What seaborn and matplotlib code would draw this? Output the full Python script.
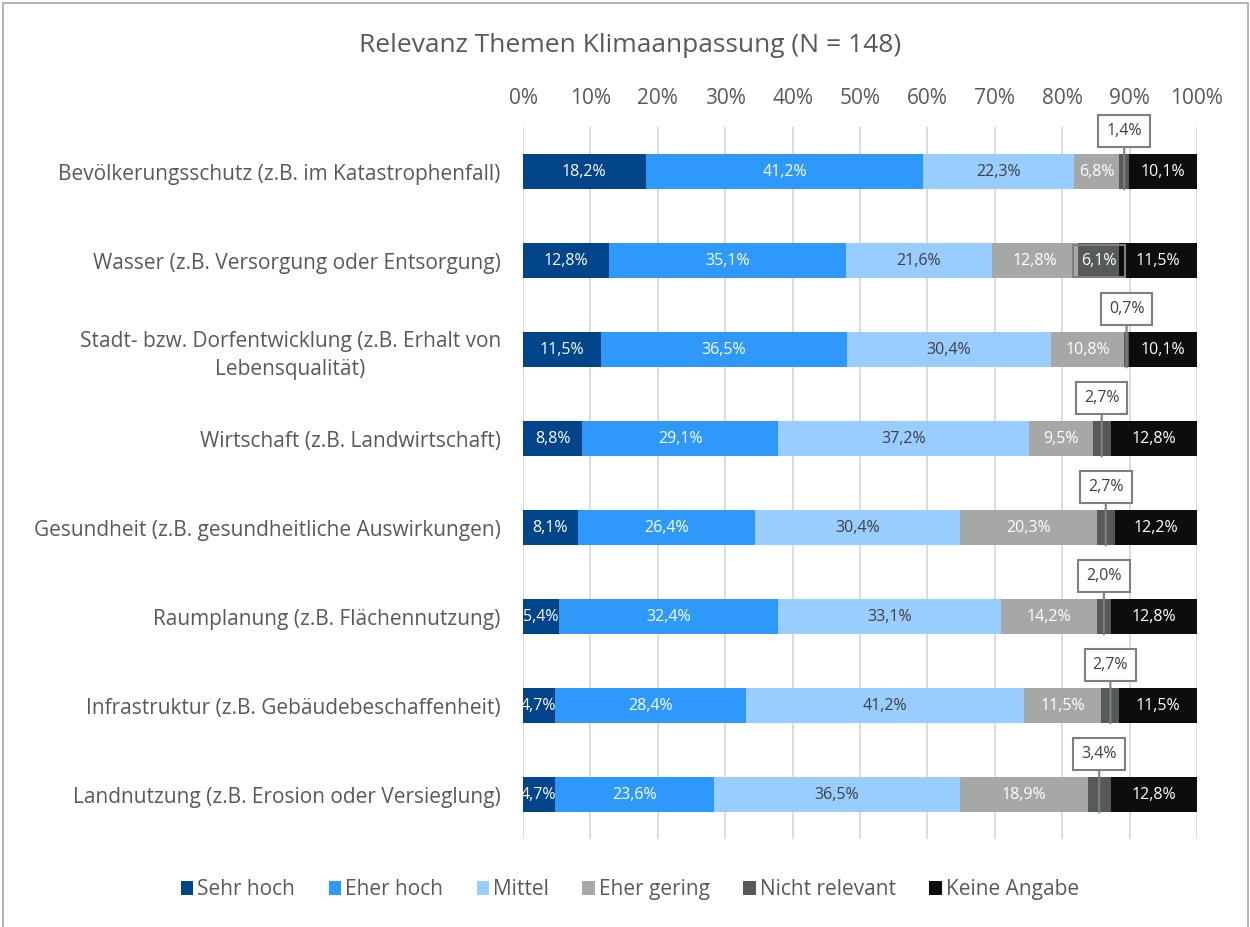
import numpy as np
import pandas as pd
import seaborn as sns
import matplotlib.pyplot as plt
from matplotlib.patches import Patch, Rectangle

sns.set_style("white")
plt.rcParams['font.family'] = ['Open Sans', 'DejaVu Sans']

themen = [
    "Bevölkerungsschutz (z.B. im Katastrophenfall)",
    "Wasser (z.B. Versorgung oder Entsorgung)",
    "Stadt- bzw. Dorfentwicklung (z.B. Erhalt von\nLebensqualität)",
    "Wirtschaft (z.B. Landwirtschaft)",
    "Gesundheit (z.B. gesundheitliche Auswirkungen)",
    "Raumplanung (z.B. Flächennutzung)",
    "Infrastruktur (z.B. Gebäudebeschaffenheit)",
    "Landnutzung (z.B. Erosion oder Versieglung)",
]
stufen = ["Sehr hoch", "Eher hoch", "Mittel", "Eher gering", "Nicht relevant", "Keine Angabe"]
sehr_hoch = [18.2, 12.8, 11.5, 8.8, 8.1, 5.4, 4.7, 4.7]
eher_hoch = [41.2, 35.1, 36.5, 29.1, 26.4, 32.4, 28.4, 23.6]
mittel = [22.3, 21.6, 30.4, 37.2, 30.4, 33.1, 41.2, 36.5]
eher_gering = [6.8, 12.8, 10.8, 9.5, 20.3, 14.2, 11.5, 18.9]
nicht_relevant = [1.4, 6.1, 0.7, 2.7, 2.7, 2.0, 2.7, 3.4]
keine_angabe = [10.1, 11.5, 10.1, 12.8, 12.2, 12.8, 11.5, 12.8]

farben = ["#004489", "#2E99FB", "#99CCFF", "#A6A8A8", "#575A5A", "#0D0D0D"]
textfarben = ["white", "white", "#404040", "white", "white", "white"]
grau = "#595959"

werte = np.array([sehr_hoch, eher_hoch, mittel, eher_gering, nicht_relevant, keine_angabe]).T
# 100% gestapelt: auf Zeilensumme normieren
anteile = werte / werte.sum(axis=1, keepdims=True) * 100
kum = np.cumsum(anteile, axis=1)

df = pd.DataFrame(kum, columns=stufen)
df["Thema"] = themen

fig = plt.figure(figsize=(12.5, 9.27), dpi=100)
ax = fig.add_axes([0.4184, 0.0949, 0.5392, 0.768])

# von hinten nach vorne zeichnen, damit die Stapel entstehen
for j in reversed(range(len(stufen))):
    sns.barplot(data=df, x=stufen[j], y="Thema", color=farben[j], saturation=1,
                width=0.4, orient="h", linewidth=0, ax=ax, zorder=2)

ax.set_xlim(0, 100)
ax.set_xticks(range(0, 101, 10))
ax.set_xticklabels([f"{t}%" for t in range(0, 101, 10)])
ax.xaxis.tick_top()
ax.tick_params(axis="x", length=0, pad=13, labelsize=15, labelcolor=grau)
ax.tick_params(axis="y", length=0, pad=16, labelsize=15, labelcolor=grau)
for lab in ax.get_yticklabels():
    lab.set_multialignment("center")
    lab.set_linespacing(1.45)
ax.set_xlabel("")
ax.set_ylabel("")
ax.grid(axis="x", color="#D9D9D9", linewidth=1.3)
ax.set_axisbelow(True)
for s in ax.spines.values():
    s.set_visible(False)

def fmt(v):
    return f"{v:.1f}".replace(".", ",") + "%"

for i in range(len(themen)):
    for j in range(len(stufen)):
        mitte = kum[i, j] - anteile[i, j] / 2
        if j == 4:
            if werte[i, j] > 5:
                ax.text(mitte, i, fmt(werte[i, j]), ha="center", va="center", fontsize=11.5,
                        color="white", zorder=5,
                        bbox=dict(boxstyle="square,pad=0.5", facecolor="none",
                                  edgecolor="#7F7F7F", linewidth=1.5))
            else:
                ax.annotate(fmt(werte[i, j]), xy=(mitte, i + 0.2), xytext=(mitte, i - 0.46),
                            ha="center", va="center", fontsize=11.5, color="#404040", zorder=5,
                            bbox=dict(boxstyle="square,pad=0.5", facecolor="white",
                                      edgecolor="#7F7F7F", linewidth=1.5),
                            arrowprops=dict(arrowstyle="-", color="#7F7F7F", linewidth=1.5,
                                            shrinkA=0, shrinkB=0))
        else:
            ax.text(mitte, i, fmt(werte[i, j]), ha="center", va="center", fontsize=11.5,
                    color=textfarben[j], zorder=4)

fig.text(0.504, 0.951, "Relevanz Themen Klimaanpassung (N = 148)", ha="center", va="center",
         fontsize=19, color=grau)

handles = [Patch(facecolor=farben[j], edgecolor="none", label=stufen[j]) for j in range(len(stufen))]
fig.legend(handles=handles, loc="center", bbox_to_anchor=(0.504, 0.04), ncol=6, frameon=False,
           fontsize=15, labelcolor=grau, handlelength=0.6, handleheight=0.6,
           handletextpad=0.2, columnspacing=1.6)

fig.patches.append(Rectangle((0.002, -0.01), 0.996, 1.007, transform=fig.transFigure,
                             fill=False, edgecolor="#A6A6A6", linewidth=1.2))

fig.savefig("out.png", dpi=100)
